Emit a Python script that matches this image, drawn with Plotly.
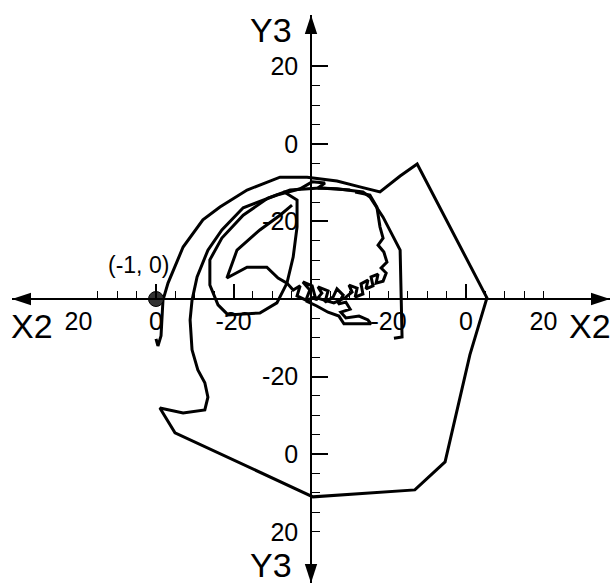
import plotly.graph_objects as go

# log-polar Nyquist view: plotted radius = gain in dB + 40, so the centre is -40 dB
x_range = [-77.16, 77.16]
y_range = [-73.2, 73.2]

# tick labels (dB) on each half axis
x_label_vals = [-60, -40, -20, 20, 40, 60]
x_label_text = ["20", "0", "-20", "-20", "0", "20"]
x_major_vals = [-40, -20, 40]
x_minor_vals = [-55, -50, -45, -35, -30, -25, -15, -10, -5,
                5, 10, 15, 20, 25, 30, 35, 45, 50, 55, 60]
y_label_vals = [60, 40, 20, -20, -40, -60]
y_label_text = ["20", "0", "-20", "-20", "0", "20"]
y_major_vals = [60, 40, 20, -20, -40]
y_minor_vals = [55, 50, 45, 35, 30, 25, 15, 10, 5,
                -5, -10, -15, -25, -30, -35, -45, -50, -55, -60]

# critical point (-1, 0) -> 0 dB at 180 deg
crit_x = [-40]
crit_y = [0]

# response curve (None = gap between pieces)
# outer arcs, polygon and the right-hand drop
outer_x = [-40.0, -39.5, -38.7, -38.2, -36.9, -33.0, -27.9, -23.5, -16.5, -8.0,
           -1.0, 6.7, 12.6, 17.8, 23.0, 27.4, 45.4, 41.0, 34.6, 26.8, 0.5,
           -35.1, -39.0, -33.0, -27.4, -26.6, -27.4, -29.2, -30.7, -31.2, -30.7,
           -29.4, -26.6, -23.0, -17.5, -8.8, -2.8, 0.3, 3.6, 1.8, 6.7, 13.4,
           15.2, 18.6, 23.0, 23.5, 21.4]
outer_y = [-10.3, -12.1, -9.5, -0.3, 4.1, 13.4, 20.4, 23.7, 28.1, 31.4,
           31.4, 30.4, 28.9, 27.6, 31.7, 34.8, 0.3, -14.4, -42.0, -49.2, -51.0,
           -34.5, -28.1, -29.4, -28.6, -25.3, -21.6, -18.3, -13.1, -5.4, -0.3,
           5.7, 12.6, 17.8, 23.5, 26.8, 28.4, 30.2, 29.9, 28.6, 28.4, 27.6,
           26.3, 21.1, 12.6, -9.8, -10.1]
# inner loop
loop_x = [-7.2, -3.6, -3.6, -4.6, -6.2, -8.8, -13.2, -21.4, -24.0, -26.1,
          -26.1, -23.0, -17.5, -11.1, -5.4, 2.3, 10.1]
loop_y = [27.8, 25.5, 18.6, 10.8, 4.1, -1.0, -3.6, -4.1, -1.5, 3.6,
          10.1, 15.7, 21.6, 26.0, 28.1, 28.6, 28.1]
# wedge, tangle near the centre and the jagged rise on the right
tangle_x = [-4.9, -8.0, -13.2, -19.1, -21.7, -16.5, -11.4, -8.5, -6.2, -4.6,
            -2.8, -3.6, -1.3, -0.3, -2.1, 0.3, 1.3, 2.8, 1.8, 4.4, 3.6, 5.7,
            6.7, 8.3, 7.0, 9.0, 10.1, 7.7, 9.0, 12.4, 14.7, 15.5, 8.5, 7.2,
            4.4, 1.5, -1.3, 0.8, 3.4, 5.9, 8.8, 10.6, 9.8, 11.9, 11.4, 13.4,
            12.9, 14.7, 14.2, 16.0, 15.5, 17.3, 16.8, 18.6, 19.4, 18.1, 19.6,
            18.8, 17.3, 18.6, 17.8, 17.0, 15.2, 11.4]
tangle_y = [24.2, 21.6, 17.8, 12.6, 5.4, 8.2, 8.2, 5.4, 4.1, 2.3,
            3.4, 0.8, -0.3, 2.3, 4.4, 3.4, -0.3, 1.5, 3.1, 2.1, -0.8, 0.5,
            2.6, 1.0, -1.3, -0.8, -2.6, -3.4, -4.9, -4.4, -5.4, -6.4, -6.4, -4.4,
            -3.4, -1.8, -0.5, 0.5, -0.3, -1.0, 0.3, 1.8, 3.6, 2.8, 0.5, 1.3,
            3.9, 4.9, 2.6, 3.4, 5.7, 6.4, 4.1, 4.6, 6.7, 8.0, 9.5,
            12.1, 13.9, 15.7, 18.6, 23.7, 26.8, 27.6]

curve_x = outer_x + [None] + loop_x + [None] + tangle_x
curve_y = outer_y + [None] + loop_y + [None] + tangle_y

font_family = "Liberation Sans, Arial, sans-serif"

fig = go.Figure()

fig.add_trace(go.Scatter(x=curve_x, y=curve_y, mode="lines",
                         line=dict(color="black", width=3), hoverinfo="skip"))

fig.add_trace(go.Scatter(x=crit_x, y=crit_y, mode="markers",
                         marker=dict(size=15, color="#333333",
                                     line=dict(color="black", width=1))))

# arrow heads at the ends of both axes
fig.add_trace(go.Scatter(
    x=[x_range[1], x_range[0], 0, 0], y=[0, 0, y_range[1], y_range[0]],
    mode="markers", cliponaxis=False, hoverinfo="skip",
    marker=dict(symbol="arrow", size=20, color="black", angle=[90, -90, 0, 180])))

# empty trace so the overlaid major-tick axes get drawn
fig.add_trace(go.Scatter(x=[None], y=[None], xaxis="x2", yaxis="y2", hoverinfo="skip"))

axis_common = dict(showgrid=False, zeroline=False, anchor="free", position=0.5,
                   automargin=False)

fig.update_layout(
    width=613, height=584,
    margin=dict(l=12, r=3, t=15, b=1),
    paper_bgcolor="white", plot_bgcolor="white",
    showlegend=False,
    font=dict(family=font_family, color="black"),
    xaxis=dict(range=x_range, showline=True, linecolor="black", linewidth=1.5,
               tickvals=x_label_vals, ticktext=x_label_text, ticks="",
               tickfont=dict(size=25),
               minor=dict(tickvals=x_minor_vals, ticks="inside", ticklen=7,
                          tickwidth=1, tickcolor="black"),
               **axis_common),
    yaxis=dict(range=y_range, showline=True, linecolor="black", linewidth=1.5,
               tickvals=y_label_vals, ticktext=y_label_text, ticks="",
               tickfont=dict(size=25), ticklabelstandoff=7,
               minor=dict(tickvals=y_minor_vals, ticks="inside", ticklen=8,
                          tickwidth=1, tickcolor="black"),
               **axis_common),
    xaxis2=dict(range=x_range, overlaying="x", matches="x", showline=False,
                tickvals=x_major_vals, ticks="inside", ticklen=15, tickwidth=1.5,
                tickcolor="black", showticklabels=False, **axis_common),
    yaxis2=dict(range=y_range, overlaying="y", matches="y", showline=False,
                tickvals=y_major_vals, ticks="inside", ticklen=16, tickwidth=1.5,
                tickcolor="black", showticklabels=False, **axis_common),
)

title_font = dict(size=34, family=font_family, color="black")
fig.add_annotation(x=-72, y=-7, text="X2", showarrow=False, font=title_font)
fig.add_annotation(x=72, y=-7, text="X2", showarrow=False, font=title_font)
fig.add_annotation(x=-10.3, y=69.4, text="Y3", showarrow=False, font=title_font)
fig.add_annotation(x=-10.3, y=-68.6, text="Y3", showarrow=False, font=title_font)
fig.add_annotation(x=-44.6, y=8.8, text="(-1, 0)", showarrow=False,
                   font=dict(size=23, family=font_family, color="black"))

# the page body has a default 8px margin; drop it so the figure sits at 0,0
fig.write_html("out.html", config={"displayModeBar": False},
               post_script="document.body.style.margin = '0';")
